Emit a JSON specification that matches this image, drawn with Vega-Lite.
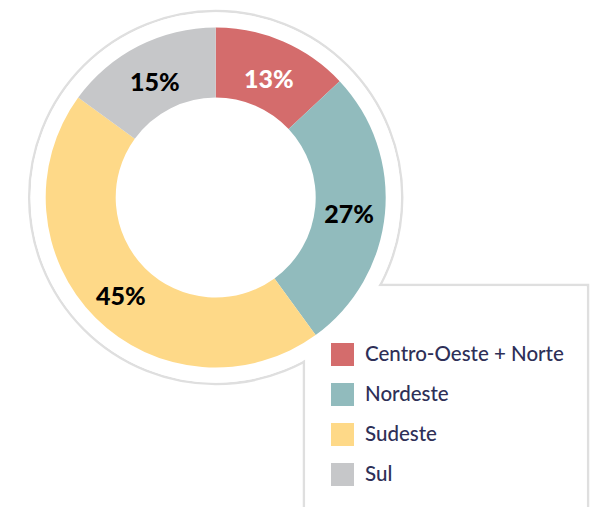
{
  "$schema": "https://vega.github.io/schema/vega-lite/v6.json",
  "width": 604,
  "height": 507,
  "autosize": {"type": "none"},
  "padding": 0,
  "background": "white",
  "config": {"view": {"stroke": null}},
  "data": {"values": [
    {"idx": 1, "region": "Centro-Oeste + Norte", "pct": 13, "label": "13%"},
    {"idx": 2, "region": "Nordeste", "pct": 27, "label": "27%"},
    {"idx": 3, "region": "Sudeste", "pct": 45, "label": "45%"},
    {"idx": 4, "region": "Sul", "pct": 15, "label": "15%"}
  ]},
  "layer": [
    {
      "data": {"values": [{"part": "ring"}]},
      "mark": {"type": "point", "shape": "circle", "size": 139129, "filled": true, "fill": "white", "stroke": "#dfdfdf", "strokeWidth": 2.5, "opacity": 1},
      "encoding": {
        "x": {"datum": 0, "type": "quantitative", "scale": {"domain": [-215.7, 388.3], "nice": false, "zero": false}, "axis": null},
        "y": {"datum": 0, "type": "quantitative", "scale": {"domain": [-197.5, 309.5], "nice": false, "zero": false, "reverse": true}, "axis": null}
      }
    },
    {
      "data": {"values": [{"part": "box"}]},
      "mark": {"type": "rect", "fill": "white", "stroke": "#dfdfdf", "strokeWidth": 2.5},
      "encoding": {
        "x": {"datum": 88.3, "type": "quantitative"},
        "x2": {"datum": 372.3},
        "y": {"datum": 87.5, "type": "quantitative"},
        "y2": {"datum": 330}
      }
    },
    {
      "data": {"values": [{"part": "ringfill"}]},
      "mark": {"type": "point", "shape": "circle", "size": 137200, "filled": true, "fill": "white", "strokeWidth": 0, "opacity": 1},
      "encoding": {
        "x": {"datum": 0, "type": "quantitative"},
        "y": {"datum": 0, "type": "quantitative"}
      }
    },
    {
      "data": {"values": [{"part": "boxfill"}]},
      "mark": {"type": "rect", "fill": "white", "strokeWidth": 0},
      "encoding": {
        "x": {"datum": 89.6, "type": "quantitative"},
        "x2": {"datum": 371},
        "y": {"datum": 88.8, "type": "quantitative"},
        "y2": {"datum": 330}
      }
    },
    {
      "mark": {"type": "arc", "outerRadius": 170, "innerRadius": 100},
      "encoding": {
        "x": {"datum": 0, "type": "quantitative"},
        "y": {"datum": 0, "type": "quantitative"},
        "theta": {"field": "pct", "type": "quantitative", "stack": true},
        "order": {"field": "idx", "type": "quantitative"},
        "color": {
          "field": "region", "type": "nominal",
          "scale": {"domain": ["Centro-Oeste + Norte", "Nordeste", "Sudeste", "Sul"], "range": ["#d46c6c", "#91bbbd", "#fed988", "#c6c7c9"]},
          "legend": {
            "title": null, "orient": "none", "legendX": 331, "legendY": 343,
            "symbolType": "square", "symbolSize": 529, "symbolStrokeWidth": 0, "symbolOpacity": 1,
            "labelFont": "Lato", "labelFontSize": 20.5, "labelFontWeight": 500, "labelColor": "#2e2f57", "labelOffset": 11,
            "rowPadding": 17, "labelLimit": 300
          }
        }
      }
    },
    {
      "mark": {"type": "text", "radius": 134, "dy": 5, "font": "Lato", "fontSize": 25, "fontWeight": 900, "align": "center", "baseline": "middle"},
      "encoding": {
        "x": {"datum": 0, "type": "quantitative"},
        "y": {"datum": 0, "type": "quantitative"},
        "theta": {"field": "pct", "type": "quantitative", "stack": true},
        "order": {"field": "idx", "type": "quantitative"},
        "text": {"field": "label", "type": "nominal"},
        "color": {"condition": {"test": "datum.idx == 1", "value": "white"}, "value": "black"}
      }
    }
  ]
}
